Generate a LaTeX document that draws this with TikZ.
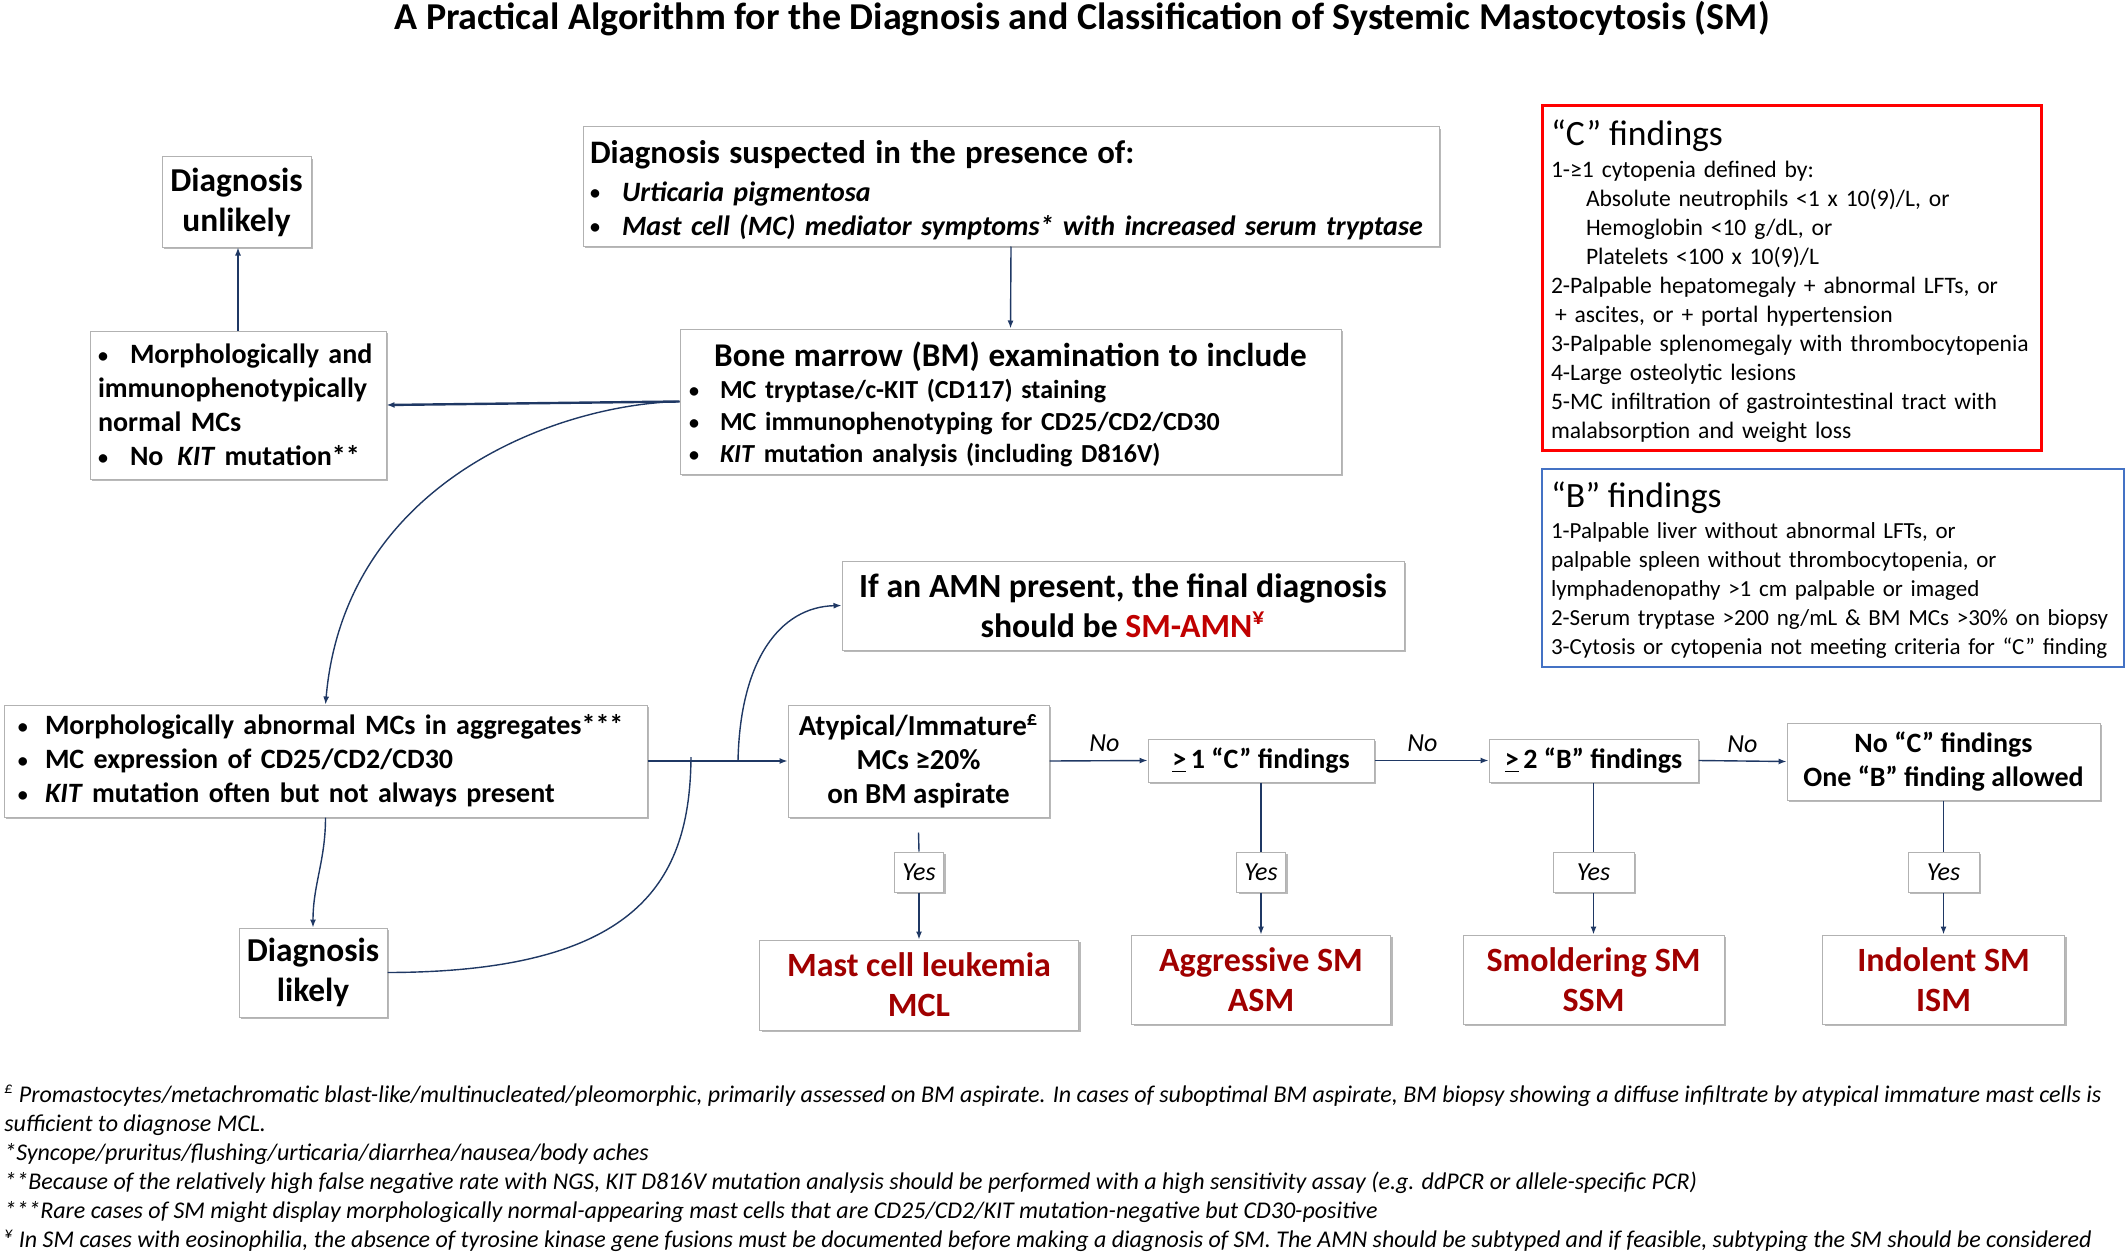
\documentclass[tikz,border=0pt]{standalone}
\usepackage{fontspec}
\setmainfont{Carlito}
\usepackage{xcolor}
\usetikzlibrary{arrows.meta,shadows,positioning}

\definecolor{linkblue}{HTML}{1F3864}
\definecolor{smred}{HTML}{A00000}
\definecolor{amnred}{HTML}{C00000}
\definecolor{bblue}{HTML}{4472C4}

\newcommand{\bul}[2][14pt]{\makebox[#1][l]{\raisebox{0.8pt}{\fontsize{10}{10}\selectfont\textbullet}}#2}

\tikzset{
	box/.style = {
			draw = black!30,
			fill = white,
			line width = 0.5pt,
			drop shadow = {shadow xshift=1pt, shadow yshift=-1pt, fill=black!55},
			inner sep = 0pt,
		},
	bodyfont/.style = {font=\bfseries\fontsize{14}{17}\selectfont},
	outcome/.style = {
			box, align=center, text=smred,
			font=\bfseries\fontsize{17}{20}\selectfont,
			minimum height=45pt,
		},
	yesbox/.style = {
			box, font=\itshape\fontsize{13}{15}\selectfont,
			minimum height=20pt,
		},
	nolabel/.style = {font=\itshape\fontsize{13}{15}\selectfont, inner sep=1pt, above=3pt},
	link/.style = {draw=linkblue, line width=0.7pt},
	flow/.style = {link, -{Latex[length=4pt,width=3pt]}},
}

\begin{document}
\begin{tikzpicture}[x=0.5pt, y=-0.5pt]
	\useasboundingbox (0,0) rectangle (2128,1257);

	% title
	\node[font=\bfseries\fontsize{19}{22}\selectfont] (title) at (1082,19) {A Practical Algorithm for the Diagnosis and Classification of Systemic Mastocytosis (SM)};

	% top part
	\node[box, minimum width=74.5pt, minimum height=45pt, align=center, font=\bfseries\fontsize{16.7}{20}\selectfont] (unlikely) at (236.5,202) {Diagnosis\\unlikely};
	\node[box, bodyfont, minimum width=428pt, minimum height=59.5pt, inner xsep=3.5pt, text width=421pt, align=left] (suspect) at (1011,186.5)
		{{\fontsize{16.4}{18}\selectfont\rule{0pt}{15.2pt}Diagnosis suspected in the presence of:\par}\vspace{1.75pt}
		\bul[16pt]{\textit{Urticaria pigmentosa}}\\
		\bul[16pt]{\textit{Mast cell (MC) mediator symptoms* with increased serum tryptase}}};
	\node[box, bodyfont, minimum width=330.5pt, minimum height=72.5pt, inner xsep=4.5pt, text width=321.5pt, align=left, font=\bfseries\fontsize{13}{16}\selectfont] (bm) at (1010.5,401.5)
		{{\centering\fontsize{16.6}{18}\selectfont\rule{0pt}{15.3pt}Bone marrow (BM) examination to include\par}\vspace{0.3pt}
		\bul[15.5pt]{MC tryptase/c-KIT (CD117) staining}\\
		\bul[15.5pt]{MC immunophenotyping for CD25/CD2/CD30}\\
		\bul[15.5pt]{\textit{KIT} mutation analysis (including D816V)}};
	\node[box, bodyfont, minimum width=148pt, minimum height=74pt, inner xsep=4pt, text width=140pt, align=left] (normal) at (238,405)
		{\bul[16pt]{Morphologically and}\\
		immunophenotypically\\
		normal MCs\\
		\bul[16pt]{No\hspace{0.5em}\textit{KIT} mutation**}};

	% findings
	\node[draw=red, line width=1.5pt, minimum width=249.5pt, minimum height=172pt, inner xsep=4.5pt, text width=240.5pt, align=left, font=\fontsize{11.8}{14.5}\selectfont] (cfind) at (1791.5,278)
		{{\fontsize{17.8}{18.5}\selectfont\rule{0pt}{15.8pt}“C” findings\par}\vspace{1.7pt}
		1-≥1 cytopenia defined by:\\
		\hspace*{17.5pt}Absolute neutrophils <1 x 10(9)/L, or\\
		\hspace*{17.5pt}Hemoglobin <10 g/dL, or\\
		\hspace*{17.5pt}Platelets <100 x 10(9)/L\\
		2-Palpable hepatomegaly + abnormal LFTs, or\\
		\hspace*{2pt}+ ascites, or + portal hypertension\\
		3-Palpable splenomegaly with thrombocytopenia\\
		4-Large osteolytic lesions\\
		5-MC infiltration of gastrointestinal tract with\\
		malabsorption and weight loss};
	\node[draw=bblue, line width=1pt, minimum width=291pt, minimum height=99pt, inner xsep=4.5pt, text width=282pt, align=left, font=\fontsize{11.5}{14.5}\selectfont] (bfind) at (1833,568)
		{{\fontsize{17.8}{18.5}\selectfont\rule{0pt}{15.1pt}“B” findings\par}\vspace{1pt}
		1-Palpable liver without abnormal LFTs, or\\
		palpable spleen without thrombocytopenia, or\\
		lymphadenopathy >1 cm palpable or imaged\\
		2-Serum tryptase >200 ng/mL \& BM MCs >30\% on biopsy\\
		3-Cytosis or cytopenia not meeting criteria for “C” finding};

	% middle row
	\node[box, minimum width=281pt, minimum height=44.5pt, align=center, font=\bfseries\fontsize{16.9}{20}\selectfont] (amn) at (1123,605.5)
		{If an AMN present, the final diagnosis\\should be \textcolor{amnred}{SM-AMN\textsuperscript{¥}}};
	\node[box, bodyfont, minimum width=321.5pt, minimum height=56pt, inner xsep=7pt, text width=307.5pt, align=left] (abnormal) at (325.5,761)
		{\bul[13.5pt]{Morphologically abnormal MCs in aggregates***}\\
		\bul[13.5pt]{MC expression of CD25/CD2/CD30}\\
		\bul[13.5pt]{\textit{KIT} mutation often but not always present}};
	\node[box, minimum width=130.5pt, minimum height=56pt, align=center, font=\bfseries\fontsize{14.5}{17}\selectfont] (atyp) at (918.5,761)
		{Atypical/Immature\textsuperscript{£}\\MCs ≥20\%\\on BM aspirate};
	\node[box, bodyfont, minimum width=113pt, minimum height=21.5pt] (c1) at (1261,760.5) {\underline{>}\,1 “C” findings};
	\node[box, bodyfont, minimum width=104.5pt, minimum height=21.5pt] (b2) at (1593.5,760.5) {\underline{>}\,2 “B” findings};
	\node[box, bodyfont, minimum width=156.5pt, minimum height=38.5pt, align=center] (noc) at (1943.5,761.5)
		{No “C” findings\\One “B” finding allowed};

	% yes boxes
	\node[yesbox, minimum width=24.5pt] (yes1) at (919,872) {Yes};
	\node[yesbox, minimum width=24.5pt] (yes2) at (1261,872) {Yes};
	\node[yesbox, minimum width=40.5pt] (yes3) at (1593.5,872) {Yes};
	\node[yesbox, minimum width=35.5pt] (yes4) at (1943.5,872) {Yes};

	% outcomes
	\node[outcome, minimum width=159.5pt] (mcl) at (919,985) {Mast cell leukemia\\MCL};
	\node[outcome, minimum width=129.5pt, minimum height=44.5pt] (asm) at (1261,979.5) {Aggressive SM\\ASM};
	\node[outcome, minimum width=130.5pt, minimum height=44.5pt] (ssm) at (1593.5,979.5) {Smoldering SM\\SSM};
	\node[outcome, minimum width=121pt, minimum height=44.5pt] (ism) at (1943.5,979.5) {Indolent SM\\ISM};
	\node[box, minimum width=74pt, minimum height=44.5pt, align=center, font=\bfseries\fontsize{16.7}{20}\selectfont] (likely) at (313,972.5) {Diagnosis\\likely};

	% connectors
	\draw[flow] (suspect.south) -- (bm.north);
	\draw[flow] (normal.north) -- (normal.north |- unlikely.south);
	\draw[flow, line width=1.2pt] (bm.west) -- (normal.east);
	\draw[flow] (bm.west) .. controls (560,404) and (345,480) .. (abnormal.north);
	\draw[flow] (abnormal.south) to[out=-90, in=90] (likely.north);
	\draw[flow] (abnormal.east) -- (atyp.west);
	\coordinate (join) at (691,757);
	\draw[link] (likely.east) .. controls (640,972) and (690,880) .. (join);
	\coordinate (split) at (738,761);
	\draw[flow] (split) .. controls (740,660) and (780,607) .. (amn.west);

	% no branches
	\draw[flow] (atyp.east) -- node[nolabel, pos=0.56] {No} (c1.west);
	\draw[flow] (c1.east) -- node[nolabel, pos=0.42] {No} (b2.west);
	\draw[flow] (b2.east) -- node[nolabel] {No} (noc.west);

	% yes branches
	\draw[link] ([yshift=-7.5pt]atyp.south) -- (yes1.north);
	\draw[flow] (yes1.south) -- (mcl.north);
	\draw[link] (c1.south) -- (yes2.north);
	\draw[flow] (yes2.south) -- (asm.north);
	\draw[link] (b2.south) -- (yes3.north);
	\draw[flow] (yes3.south) -- (ssm.north);
	\draw[link] (noc.south) -- (yes4.north);
	\draw[flow] (yes4.south) -- (ism.north);

	% footnotes
	\node[anchor=north west, inner sep=0pt, align=left, font=\itshape\fontsize{12}{14.5}\selectfont] (notes) at (4,1085)
		{\textsuperscript{£} Promastocytes/metachromatic blast-like/multinucleated/pleomorphic, primarily assessed on BM aspirate. In cases of suboptimal BM aspirate, BM biopsy showing a diffuse infiltrate by atypical immature mast cells is\\
		sufficient to diagnose MCL.\\
		*Syncope/pruritus/flushing/urticaria/diarrhea/nausea/body aches\\
		**Because of the relatively high false negative rate with NGS, KIT D816V mutation analysis should be performed with a high sensitivity assay (e.g. ddPCR or allele-specific PCR)\\
		***Rare cases of SM might display morphologically normal-appearing mast cells that are CD25/CD2/KIT mutation-negative but CD30-positive\\
		\textsuperscript{¥} In SM cases with eosinophilia, the absence of tyrosine kinase gene fusions must be documented before making a diagnosis of SM. The AMN should be subtyped and if feasible, subtyping the SM should be considered};
\end{tikzpicture}
\end{document}
